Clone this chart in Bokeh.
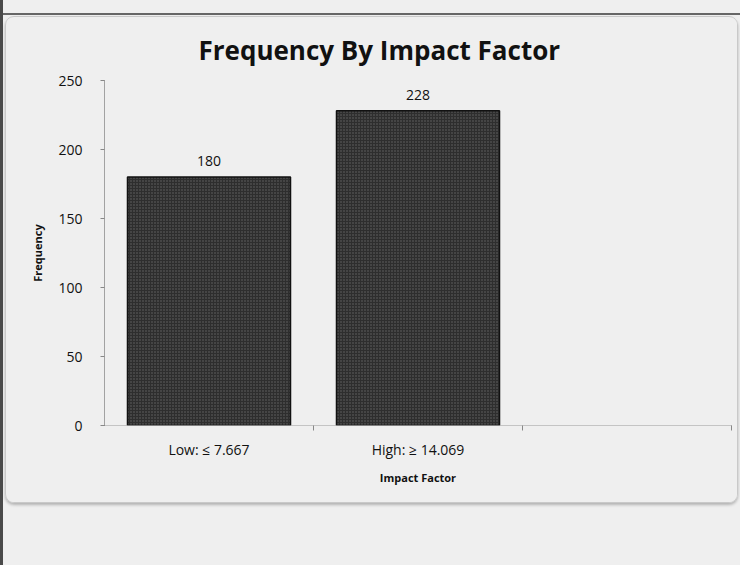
from bokeh.plotting import figure
from bokeh.models import ColumnDataSource, Range1d, FixedTicker, LabelSet
from bokeh.core.properties import value
from bokeh.layouts import column
from bokeh.embed import file_html
from bokeh.resources import INLINE

# Data
categories = ["Low: \u2264 7.667", "High: \u2265 14.069"]
frequency = [180, 228]
slots = 3  # the category axis has room for a third, empty slot
y_ticks = [0, 50, 100, 150, 200, 250]

FONT = "Open Sans"

xs = [i + 0.5 for i in range(len(categories))]
source = ColumnDataSource(dict(x=xs, top=frequency, label=[str(v) for v in frequency]))

p = figure(
    width=733, height=487,
    x_range=Range1d(0, slots), y_range=Range1d(0, 250),
    output_backend="svg", toolbar_location=None,
    min_border_left=98, min_border_right=8,
    min_border_top=63, min_border_bottom=79,
    background_fill_color="#efefef", border_fill_color="#efefef",
    outline_line_color=None,
)
p.styles = {
    "border": "1px solid #c9c9c9",
    "border-radius": "9px",
    "box-shadow": "0px 2px 3px rgba(0,0,0,0.25)",
    "overflow": "hidden",
    "margin-left": "2px",
    "margin-top": "16px",
}

p.title.text = "Frequency By Impact Factor"
p.title.align = "left"
p.title.offset = 94
p.title.text_font = FONT
p.title.text_font_size = "26px"
p.title.text_font_style = "bold"
p.title.text_color = "#111111"
p.title.standoff = 25

p.vbar(x="x", top="top", width=0.78, source=source,
       fill_color="#2e2e2e", line_color="#111111", line_width=1.5,
       hatch_pattern="dot", hatch_scale=3, hatch_color="#666666", hatch_weight=1)

p.add_layout(LabelSet(x="x", y="top", text="label", source=source,
                      text_align="center", text_baseline="bottom", y_offset=11,
                      text_font=value(FONT), text_font_size="14px", text_color="#111111"))

# x axis: labels at category centres, small ticks at category boundaries
p.xaxis.ticker = FixedTicker(ticks=xs, minor_ticks=[1, 2, 3])
p.xaxis.major_label_overrides = {x: c for x, c in zip(xs, categories)}
p.xaxis.major_tick_line_color = None
p.xaxis.minor_tick_in = 0
p.xaxis.minor_tick_out = 5
p.xaxis.minor_tick_line_color = "#888888"
p.xaxis.axis_line_color = "#999999"
p.xaxis.axis_line_dash = "1 1"
p.xaxis.major_label_standoff = 8
p.xaxis.axis_label = "Impact Factor"
p.xaxis.axis_label_standoff = 8

# y axis
p.yaxis.ticker = FixedTicker(ticks=y_ticks)
p.yaxis.minor_tick_line_color = None
p.yaxis.major_tick_in = 0
p.yaxis.major_tick_out = 4
p.yaxis.major_tick_line_color = "#888888"
p.yaxis.axis_line_color = "#555555"
p.yaxis.axis_line_dash = "1 1"
p.yaxis.major_label_standoff = 18
p.yaxis.axis_label = "Frequency"
p.yaxis.axis_label_standoff = 10

for ax in (p.xaxis, p.yaxis):
    ax.major_label_text_font = FONT
    ax.major_label_text_font_size = "14px"
    ax.major_label_text_color = "#111111"
    ax.axis_label_text_font = FONT
    ax.axis_label_text_font_size = "11px"
    ax.axis_label_text_font_style = "bold"
    ax.axis_label_text_color = "#111111"

p.grid.grid_line_color = None

page = column(p, width=740, height=565, styles={
    "background": "linear-gradient(to bottom, #efefef 0px, #efefef 13px, "
                  "#666666 13px, #666666 15px, #efefef 15px)",
    "border-left": "3px solid #4a4a4a",
    "box-sizing": "border-box",
})

open("out.html", "w").write(file_html(page, INLINE))
